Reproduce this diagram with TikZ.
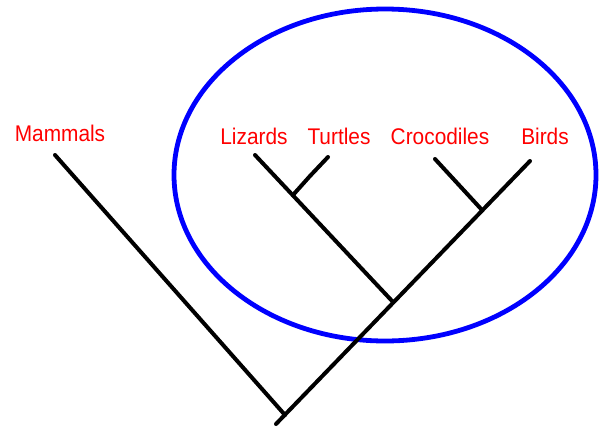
\documentclass[tikz,border=0pt]{standalone}
\usepackage{fontspec}
\setmainfont{Liberation Sans}
\usepackage{xcolor}

\tikzset{
    taxon/.style={text=red, anchor=base, inner sep=0pt, xscale=0.92,
        font=\fontsize{17}{20}\selectfont},
    branch/.style={black, line width=3pt, line cap=round, line join=round},
    group/.style={blue, line width=3.6pt}
}

\begin{document}
\begin{tikzpicture}[x=0.75pt, y=-0.75pt]
    \useasboundingbox (0,0) rectangle (599,429);
\draw[group] (385,175) ellipse [x radius=211, y radius=166];
    \node[taxon] (mammals) at (60,141) {Mammals};
    \node[taxon] (lizards) at (254,144) {Lizards};
    \node[taxon] (turtles) at (339,144) {Turtles};
    \node[taxon] (crocs) at (440,144) {Crocodiles};
    \node[taxon] (birds) at (545,144) {Birds};
    \coordinate (root) at (276,424);
    \coordinate (tipM) at (55,155);
    \coordinate (tipL) at (255,155);
    \coordinate (tipT) at (328,157);
    \coordinate (tipC) at (435,159);
    \coordinate (tipB) at (530,161);
    \coordinate (nodeM) at (285,415);
    \coordinate (nodeR) at (393,302);
    \coordinate (nodeLT) at (293,195);
    \coordinate (nodeCB) at (482,210);
    \draw[branch] (root)--(tipB);
    \draw[branch] (nodeM)--(tipM);
    \draw[branch] (nodeR)--(tipL);
    \draw[branch] (nodeLT)--(310,176)--(tipT);
    \draw[branch] (nodeCB)--(tipC);
\end{tikzpicture}
\end{document}
